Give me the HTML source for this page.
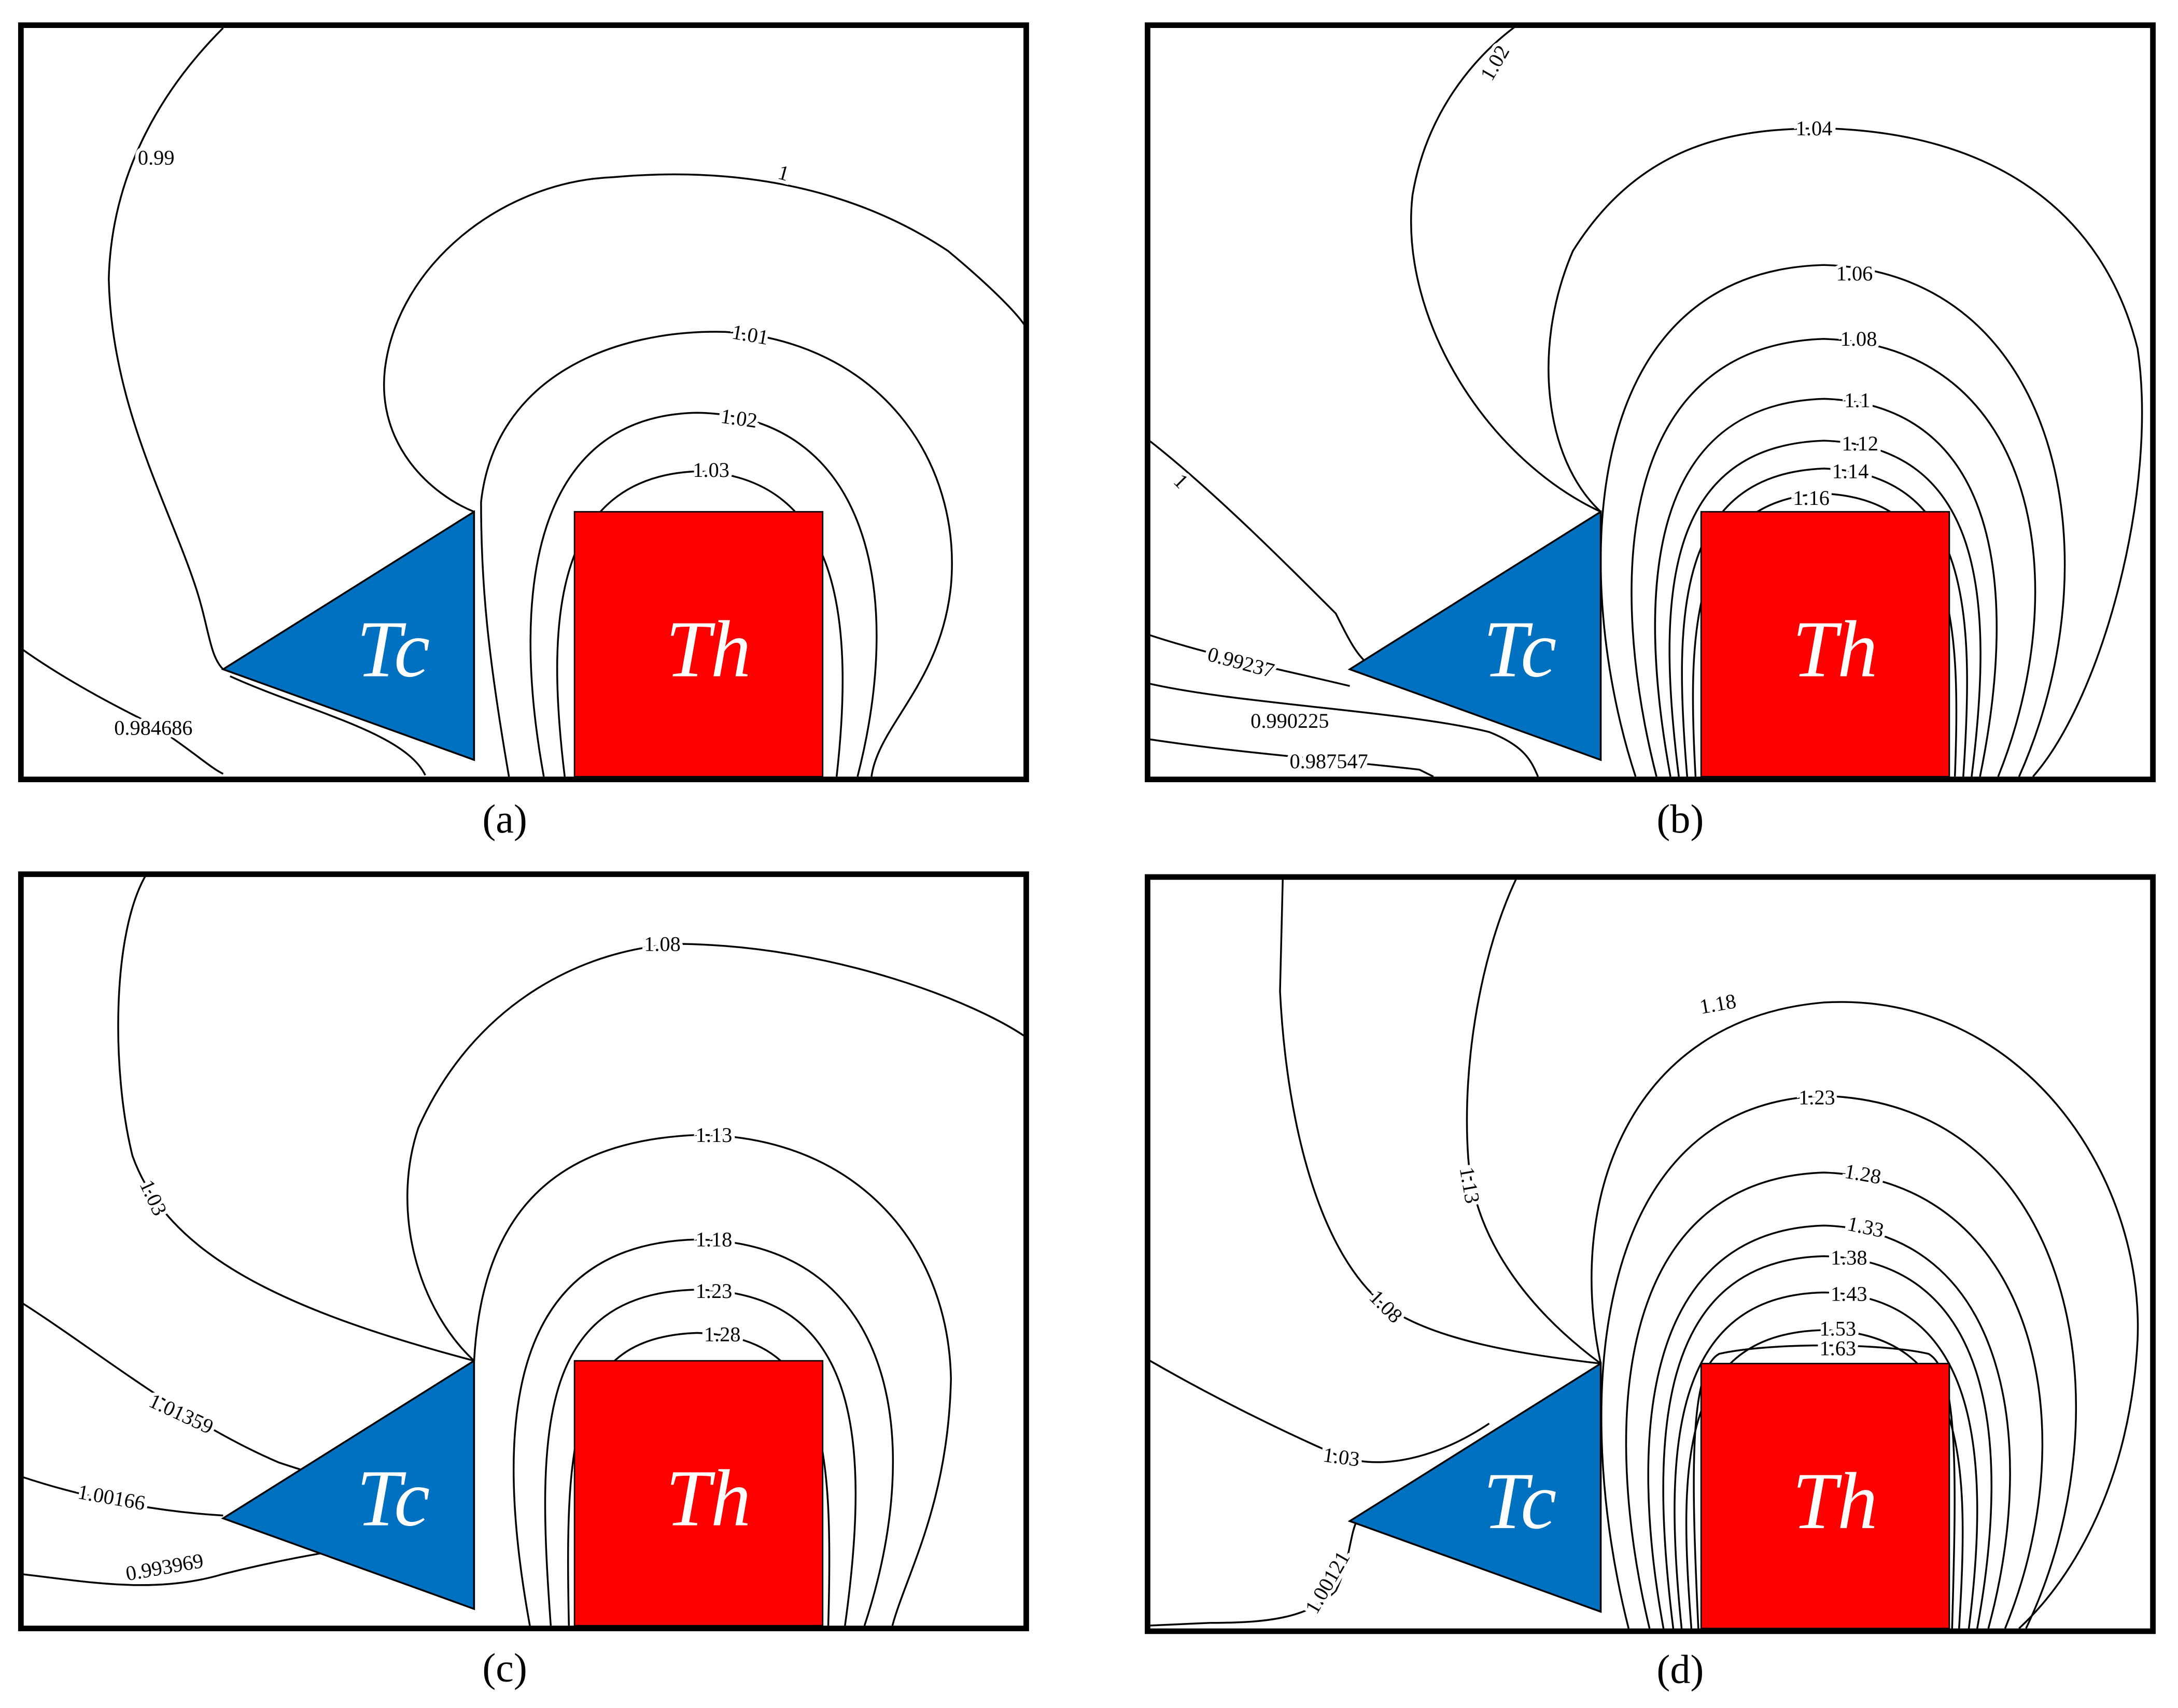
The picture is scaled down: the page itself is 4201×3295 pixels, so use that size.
<!DOCTYPE html>
<html><head><meta charset="utf-8"><style>
html,body{margin:0;padding:0;background:#fff}
svg{display:block}
.c{fill:none;stroke:#000;stroke-width:1.3}
.l{font-family:"Liberation Serif",serif;font-size:15px;fill:#000;stroke:#fff;stroke-width:5;paint-order:stroke;text-anchor:middle}
.t{font-family:"Liberation Serif",serif;font-style:italic;font-size:58px;fill:#fff;text-anchor:middle}
.cap{font-family:"Liberation Serif",serif;font-size:29px;fill:#000;text-anchor:middle}
</style></head><body>
<svg width="4201" height="3295" viewBox="0 0 1562 1225" xmlns="http://www.w3.org/2000/svg">
<defs>
<g id="base">
<polygon points="340,367 160,480 340,545" fill="#0070c0" stroke="#000" stroke-width="1.3"/>
<rect x="412" y="367" width="178" height="190" fill="#ff0000" stroke="#000" stroke-width="1"/>
<text class="t" x="282" y="485">Tc</text>
<text class="t" x="508" y="485">Th</text>
</g>
</defs>

<!-- panel a -->
<g>
<path class="c" d="M405,557 C392,450 395,342 500,338 C605,342 612,450 600,557"/>
<path class="c" d="M390,557 C365,420 385,298 500,296 C620,298 650,420 615,557"/>
<path class="c" d="M365,557 C350,470 345,420 345,360 C355,270 440,236 520,238 C630,245 690,330 682,420 C675,490 630,520 625,557"/>
<path class="c" d="M340,367 C310,355 270,320 276,265 C285,190 360,130 440,127 C540,118 620,140 680,180 C710,205 730,225 736,235"/>
<path class="c" d="M160,20 C120,60 80,120 78,200 C80,290 120,360 140,420 C150,450 150,470 160,480"/>
<path class="c" d="M15,465 C50,490 90,510 110,520 C140,540 150,550 160,555"/>
<path class="c" d="M165,485 C220,510 290,525 305,556"/>
<use href="#base"/>
<text class="l" x="112" y="118">0.99</text>
<text class="l" x="562" y="129" transform="rotate(15 562 124)">1</text>
<text class="l" x="538" y="245" transform="rotate(10 538 240)">1.01</text>
<text class="l" x="530" y="305" transform="rotate(8 530 300)">1.02</text>
<text class="l" x="510" y="342">1.03</text>
<text class="l" x="110" y="527">0.984686</text>
<rect x="15" y="18" width="721" height="541" fill="none" stroke="#000" stroke-width="4"/>
<text class="cap" x="362" y="597">(a)</text>
</g>

<!-- panel b -->
<g transform="translate(808,0)">
<path class="c" d="M408,557 C402,450 405,358 500,354 C595,358 598,450 594,557"/>
<path class="c" d="M402,557 C392,440 395,340 500,336 C605,340 608,440 600,557"/>
<path class="c" d="M396,557 C380,430 385,320 500,316 C615,320 622,430 606,557"/>
<path class="c" d="M390,557 C365,420 375,290 500,286 C625,290 640,420 612,557"/>
<path class="c" d="M380,557 C345,420 350,248 500,243 C655,248 680,420 625,557"/>
<path class="c" d="M365,557 C320,420 320,195 500,190 C670,195 710,400 640,557"/>
<path class="c" d="M340,367 C300,330 290,250 320,180 C370,100 440,92 500,92 C620,95 700,150 725,250 C740,350 700,500 650,557"/>
<path class="c" d="M340,367 C260,330 195,230 205,140 C215,80 250,40 280,18"/>
<path class="c" d="M15,315 C60,350 110,400 150,440 C160,460 165,470 175,478"/>
<path class="c" d="M15,455 C60,470 110,480 160,492"/>
<path class="c" d="M15,490 C80,505 200,510 260,525 C285,535 290,545 295,557"/>
<path class="c" d="M15,530 C80,540 150,545 210,552 L220,557"/>
<use href="#base"/>
<text class="l" x="264" y="50" transform="rotate(-60 264 45)">1.02</text>
<text class="l" x="493" y="97">1.04</text>
<text class="l" x="522" y="201">1.06</text>
<text class="l" x="525" y="248">1.08</text>
<text class="l" x="524" y="292">1.1</text>
<text class="l" x="526" y="323">1.12</text>
<text class="l" x="519" y="343">1.14</text>
<text class="l" x="491" y="362">1.16</text>
<text class="l" x="39" y="350" transform="rotate(45 39 345)">1</text>
<text class="l" x="82" y="480" transform="rotate(15 82 475)">0.99237</text>
<text class="l" x="117" y="522">0.990225</text>
<text class="l" x="145" y="551">0.987547</text>
<rect x="15" y="18" width="721" height="541" fill="none" stroke="#000" stroke-width="4"/>
<text class="cap" x="397" y="597">(b)</text>
</g>

<!-- panel c -->
<g transform="translate(0,609)">
<path class="c" d="M408,557 C405,420 410,350 500,347 C590,350 598,420 594,557"/>
<path class="c" d="M395,557 C385,420 385,318 500,316 C615,318 625,420 606,557"/>
<path class="c" d="M380,557 C355,420 360,283 500,280 C640,283 665,420 620,557"/>
<path class="c" d="M340,367 C345,280 380,210 500,205 C610,205 680,280 682,380 C680,470 650,520 640,557"/>
<path class="c" d="M340,367 C300,330 280,260 300,200 C340,110 420,70 490,68 C600,70 700,110 736,135"/>
<path class="c" d="M105,18 C80,60 80,160 95,220 C120,290 200,330 340,367"/>
<path class="c" d="M15,325 C70,360 130,410 200,440 C230,450 250,455 265,460"/>
<path class="c" d="M15,450 C60,465 110,475 160,478"/>
<path class="c" d="M15,520 C60,525 110,535 160,520 C200,510 230,505 260,500"/>
<use href="#base"/>
<text class="l" x="475" y="73">1.08</text>
<text class="l" x="512" y="210">1.13</text>
<text class="l" x="512" y="285">1.18</text>
<text class="l" x="512" y="322">1.23</text>
<text class="l" x="518" y="353">1.28</text>
<text class="l" x="110" y="255" transform="rotate(65 110 250)">1.03</text>
<text class="l" x="130" y="410" transform="rotate(25 130 405)">1.01359</text>
<text class="l" x="80" y="470" transform="rotate(10 80 465)">1.00166</text>
<text class="l" x="118" y="520" transform="rotate(-10 118 515)">0.993969</text>
<rect x="15" y="18" width="721" height="541" fill="none" stroke="#000" stroke-width="4"/>
<text class="cap" x="362" y="597">(c)</text>
</g>

<!-- panel d -->
<g transform="translate(808,611)">
<path class="c" d="M410,557 C405,450 403,372 425,360 C460,352 540,352 575,360 C597,372 595,450 592,557"/>
<path class="c" d="M405,557 C396,440 396,345 500,343 C604,345 604,440 597,557"/>
<path class="c" d="M398,557 C385,430 390,318 500,316 C610,318 620,430 604,557"/>
<path class="c" d="M392,557 C375,420 380,293 500,290 C620,293 635,420 610,557"/>
<path class="c" d="M385,557 C360,420 370,272 500,268 C630,272 655,420 618,557"/>
<path class="c" d="M375,557 C340,410 350,235 500,230 C650,235 690,410 630,557"/>
<path class="c" d="M360,557 C320,400 330,180 500,175 C680,180 720,400 645,557"/>
<path class="c" d="M340,367 C315,250 360,120 500,108 C640,100 730,230 725,350 C720,450 680,520 640,557"/>
<path class="c" d="M340,367 C290,330 250,280 245,220 C240,150 255,70 280,18"/>
<path class="c" d="M340,367 C280,360 220,350 186,326 C140,290 115,200 110,100 L112,18"/>
<path class="c" d="M15,364 C60,390 110,415 154,434 C190,445 230,430 260,410"/>
<path class="c" d="M15,555 L60,553 C100,553 130,550 150,530 C160,510 160,490 165,480"/>
<use href="#base"/>
<text class="l" x="424" y="114" transform="rotate(-10 424 109)">1.18</text>
<text class="l" x="495" y="181">1.23</text>
<text class="l" x="528" y="236" transform="rotate(10 528 231)">1.28</text>
<text class="l" x="530" y="274" transform="rotate(12 530 269)">1.33</text>
<text class="l" x="518" y="296">1.38</text>
<text class="l" x="518" y="322">1.43</text>
<text class="l" x="510" y="347">1.53</text>
<text class="l" x="510" y="361">1.63</text>
<text class="l" x="246" y="244" transform="rotate(80 246 239)">1.13</text>
<text class="l" x="186" y="331" transform="rotate(45 186 326)">1.08</text>
<text class="l" x="154" y="439" transform="rotate(8 154 434)">1.03</text>
<text class="l" x="144" y="529" transform="rotate(-60 144 524)">1.00121</text>
<rect x="15" y="18" width="721" height="541" fill="none" stroke="#000" stroke-width="4"/>
<text class="cap" x="397" y="596">(d)</text>
</g>
</svg>
</body></html>
